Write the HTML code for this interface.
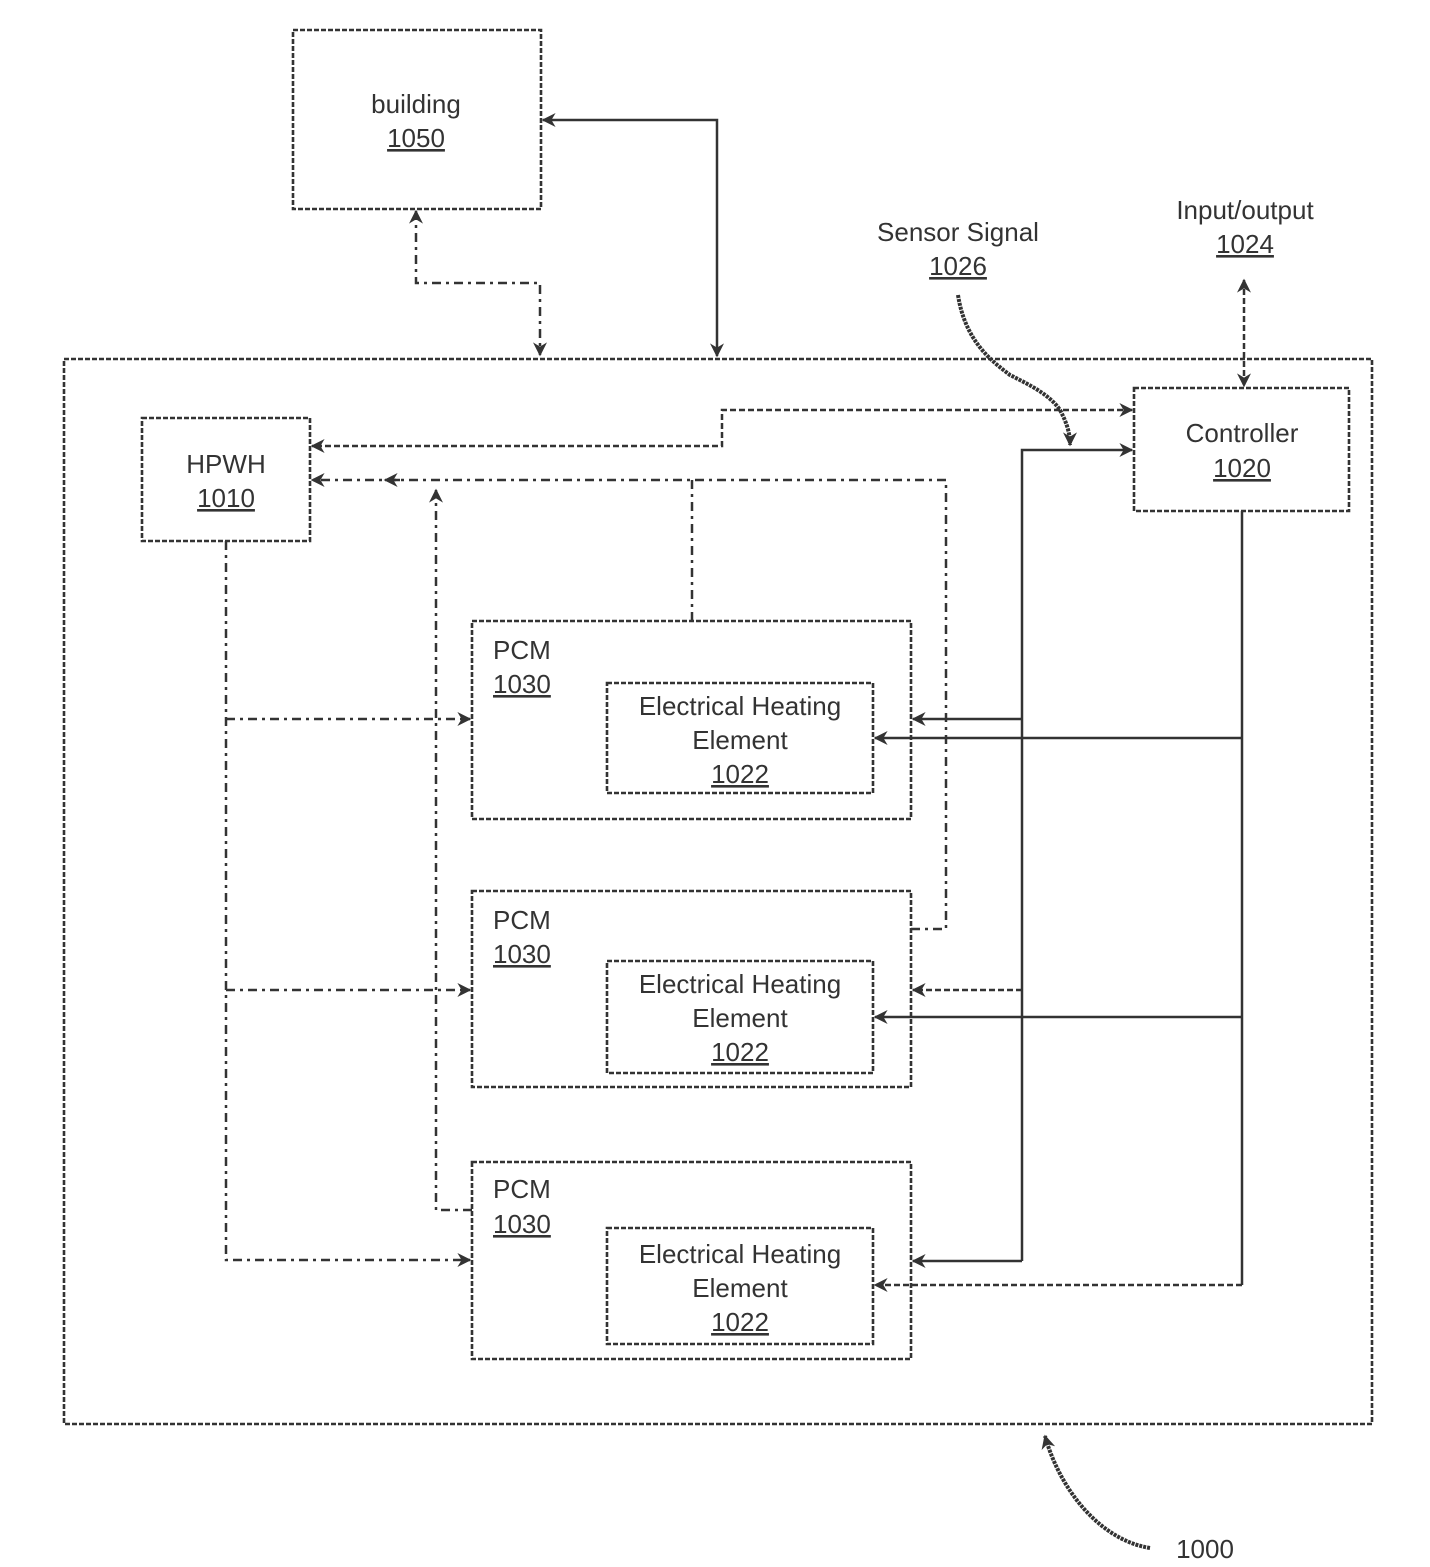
<!DOCTYPE html>
<html><head><meta charset="utf-8"><style>
html,body{margin:0;padding:0;background:#fff}
svg{display:block}
text{font-family:"Liberation Sans",sans-serif;font-size:26px;fill:#333}
</style></head><body>
<svg width="1430" height="1567" viewBox="0 0 1430 1567" xmlns="http://www.w3.org/2000/svg">
<defs>
<marker id="a" viewBox="0 0 10 10" refX="9" refY="5" markerWidth="16" markerHeight="14" orient="auto-start-reverse" markerUnits="userSpaceOnUse">
<path d="M0,0 L10,5 L0,10 L3,5 z" fill="#333"/></marker>
</defs>
<g fill="none" stroke="#333" stroke-width="2.6" stroke-dasharray="5 2">
<rect x="293" y="30" width="248" height="179"/>
<rect x="64" y="359" width="1308" height="1065"/>
<rect x="142" y="418" width="168" height="123"/>
<rect x="1134" y="388" width="215" height="123"/>
<rect x="472" y="621" width="439" height="198"/>
<rect x="607" y="683" width="266" height="110"/>
<rect x="472" y="891" width="439" height="196"/>
<rect x="607" y="961" width="266" height="112"/>
<rect x="472" y="1162" width="439" height="197"/>
<rect x="607" y="1228" width="266" height="116"/>
</g>
<g fill="none" stroke="#333" stroke-width="2.5">
<path d="M717,356 V120 H543" marker-start="url(#a)" marker-end="url(#a)"/>
<path d="M1022,1261 V450 H1132" marker-end="url(#a)"/>
<path d="M1022,719 H913" marker-end="url(#a)"/>
<path d="M1022,1261 H913" marker-end="url(#a)"/>
<path d="M1242,511 V1285"/>
<path d="M1242,738 H875" marker-end="url(#a)"/>
<path d="M1242,1017 H875" marker-end="url(#a)"/>
<path d="M958,295 C965,340 990,360 1010,375 C1030,385 1050,395 1060,410 C1068,425 1070,435 1070,445" stroke-width="4" stroke-dasharray="3 1" marker-end="url(#a)"/>
<path d="M1150,1548 C1100,1540 1060,1490 1045,1436" stroke-width="4" stroke-dasharray="3 1" marker-end="url(#a)"/>
</g>
<g fill="none" stroke="#333" stroke-width="2.5" stroke-dasharray="6 3">
<path d="M1132,410 H722 V446 H312" marker-start="url(#a)" marker-end="url(#a)"/>
<path d="M1022,990 H913" marker-end="url(#a)"/>
<path d="M1242,1285 H875" marker-end="url(#a)"/>
<path d="M1244,280 V386" marker-start="url(#a)" marker-end="url(#a)"/>
</g>
<g fill="none" stroke="#333" stroke-width="2.5" stroke-dasharray="9 5 3 5">
<path d="M416,211 V283 H540 V355" marker-start="url(#a)" marker-end="url(#a)"/>
<path d="M911,929 H946 V480 H312" marker-end="url(#a)"/>
<path d="M692,621 V480"/>
<path d="M400,480 H385" marker-end="url(#a)"/>
<path d="M472,1210 H436 V490" marker-end="url(#a)"/>
<path d="M226,541 V1260 H470" marker-end="url(#a)"/>
<path d="M226,719 H470" marker-end="url(#a)"/>
<path d="M226,990 H470" marker-end="url(#a)"/>
</g>
<g text-anchor="middle">
<text x="416" y="113">building</text>
<text x="416" y="147" text-decoration="underline">1050</text>
<text x="226" y="473">HPWH</text>
<text x="226" y="507" text-decoration="underline">1010</text>
<text x="1242" y="442">Controller</text>
<text x="1242" y="477" text-decoration="underline">1020</text>
<text x="958" y="241">Sensor Signal</text>
<text x="958" y="275" text-decoration="underline">1026</text>
<text x="1245" y="219">Input/output</text>
<text x="1245" y="253" text-decoration="underline">1024</text>
<text x="1205" y="1558">1000</text>
<text x="740" y="715">Electrical Heating</text>
<text x="740" y="749">Element</text>
<text x="740" y="783" text-decoration="underline">1022</text>
<text x="740" y="993">Electrical Heating</text>
<text x="740" y="1027">Element</text>
<text x="740" y="1061" text-decoration="underline">1022</text>
<text x="740" y="1263">Electrical Heating</text>
<text x="740" y="1297">Element</text>
<text x="740" y="1331" text-decoration="underline">1022</text>
</g>
<g>
<text x="493" y="659">PCM</text>
<text x="493" y="693" text-decoration="underline">1030</text>
<text x="493" y="929">PCM</text>
<text x="493" y="963" text-decoration="underline">1030</text>
<text x="493" y="1198">PCM</text>
<text x="493" y="1233" text-decoration="underline">1030</text>
</g>
</svg>
</body></html>
